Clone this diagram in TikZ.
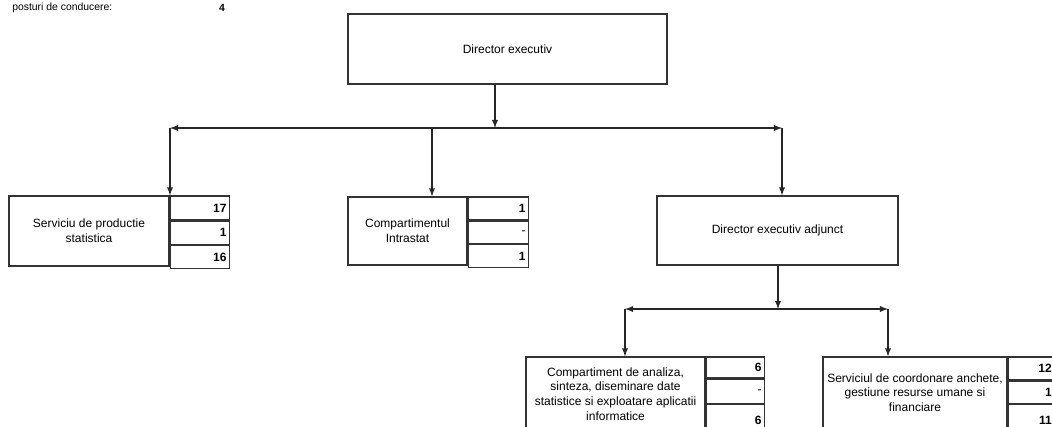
\documentclass[tikz,border=0pt]{standalone}
\usepackage{fontspec}
\setmainfont{Liberation Sans}
\usetikzlibrary{arrows, positioning, calc}

\tikzset{
  txt/.style={font=\fontsize{9}{11}\selectfont},
  unitbox/.style={txt, draw=black!80, line width=0.9pt, rectangle, align=center, inner sep=2pt},
  cell/.style={draw=black!80, line width=0.9pt, rectangle, anchor=north west,
    inner xsep=2pt, inner ysep=0pt, align=right, font=\fontsize{9}{10}\selectfont\bfseries},
  link/.style={draw=black!85, line width=1.1pt, -latex},
  bar/.style={draw=black!85, line width=1.1pt, latex-latex}
}

\begin{document}
\begin{tikzpicture}[x=0.75pt, y=-0.75pt]
\clip (0,0) rectangle (1052,426);
% header
\node[font=\fontsize{7.8}{9}\selectfont, anchor=west, inner sep=0pt] (lbl) at (12,8) {posturi de conducere:};
\node[font=\fontsize{7.8}{9}\selectfont, inner sep=0pt] (nrc) at (222,8) {\textbf{4}};

% top level
\node[unitbox, minimum width=239.25pt, minimum height=52.5pt] (de) at (507.5,49) {Director executiv};

% second level
\node[unitbox, minimum width=120pt, minimum height=52.5pt] (sps) at (89,231) {Serviciu de productie\\statistica};
\node[cell, text width=40.25pt, minimum height=18pt] (sps1) at (sps.north east) {17};
\node[cell, text width=40.25pt, minimum height=17.25pt] (sps2) at (sps1.south west) {1};
\node[cell, text width=40.25pt, minimum height=17.25pt] (sps3) at (sps2.south west) {16};

\node[unitbox, minimum width=89.25pt, minimum height=51pt] (ci) at (407.5,231) {Compartimentul\\Intrastat};
\node[cell, text width=41pt, minimum height=17.25pt] (ci1) at (ci.north east) {1};
\node[cell, text width=41pt, minimum height=16.5pt] (ci2) at (ci1.south west) {\mdseries -\hspace*{14pt}};
\node[cell, text width=41pt, minimum height=17.25pt] (ci3) at (ci2.south west) {1};

\node[unitbox, minimum width=180.75pt, minimum height=51.75pt] (dea) at (777.5,230.5) {Director executiv adjunct};

% third level
\node[unitbox, minimum width=134.25pt, minimum height=55.5pt] (ca) at (615.5,394) {Compartiment de analiza,\\sinteza, diseminare date\\statistice si exploatare aplicatii\\informatice};
\node[cell, text width=39.5pt, minimum height=15.75pt] (ca1) at (ca.north east) {6};
\node[cell, text width=39.5pt, minimum height=18pt] (ca2) at (ca1.south west) {\mdseries -\hspace*{12pt}};
\node[cell, text width=39.5pt, minimum height=24pt] (ca3) at (ca2.south west) {6};

\node[unitbox, minimum width=138pt, minimum height=53.25pt] (sc) at (915,392.5) {Serviciul de coordonare anchete,\\gestiune resurse umane si\\financiare};
\node[cell, text width=24pt, minimum width=41.25pt, minimum height=17.25pt] (sc1) at (sc.north east) {12};
\node[cell, text width=24pt, minimum width=41.25pt, minimum height=16.5pt] (sc2) at (sc1.south west) {1};
\node[cell, text width=24pt, minimum width=41.25pt, minimum height=24pt] (sc3) at (sc2.south west) {11};

% connectors, level 1 -> 2
\coordinate (j1) at (495,128);
\coordinate (j1l) at (170,128);
\coordinate (j1m) at (432,128);
\coordinate (j1r) at (782,128);
\draw[link] (j1 |- de.south) -- (j1);
\draw[bar] (j1l) -- (j1r);
\draw[link] (j1l) -- (j1l |- sps.north);
\draw[link] (j1m) -- (j1m |- ci.north);
\draw[link] (j1r) -- (j1r |- dea.north);

% connectors, level 2 -> 3
\coordinate (j2) at (778,309);
\coordinate (j2l) at (625,309);
\coordinate (j2r) at (888,309);
\draw[link] (j2 |- dea.south) -- (j2);
\draw[bar] (j2l) -- (j2r);
\draw[link] (j2l) -- (j2l |- ca.north);
\draw[link] (j2r) -- (j2r |- sc.north);
\end{tikzpicture}
\end{document}
